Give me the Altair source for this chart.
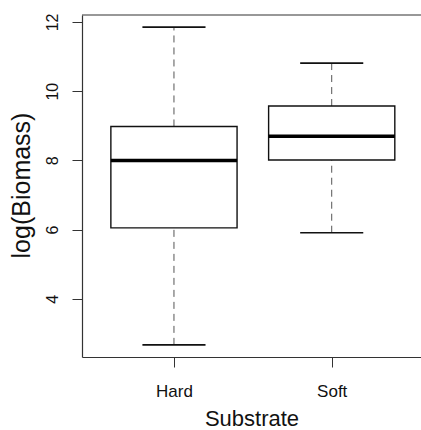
import json
import altair as alt
import pandas as pd

# ---- data ----
categories = ["Hard", "Soft"]
whisker_low = [2.67, 5.91]
q1 = [6.05, 8.01]
median = [8.00, 8.70]
q3 = [8.98, 9.57]
whisker_high = [11.85, 10.81]

y_ticks = [4, 6, 8, 10, 12]

df = pd.DataFrame({
    "cat": categories,
    "pos": list(range(1, len(categories) + 1)),
    "lo": whisker_low,
    "q1": q1,
    "med": median,
    "q3": q3,
    "hi": whisker_high,
})

W, H = 339, 342
FONT = "Liberation Sans"
xdom = [0.417, 2.566]
ydom = [2.32, 12.2]

xscale = alt.Scale(domain=xdom, nice=False, zero=False)
yscale = alt.Scale(domain=ydom, nice=False, zero=False)

label_expr = f"{json.dumps(categories)}[datum.value - 1]"

base = alt.Chart(df).transform_calculate(
    xl="datum.pos - 0.4", xr="datum.pos + 0.4",
    cl="datum.pos - 0.2", cr="datum.pos + 0.2",
)

xaxis = alt.Axis(
    values=[1, 2], labelExpr=label_expr, title="Substrate", grid=False,
    tickSize=10, tickColor="#333", domainColor="#333", domainWidth=1.2,
    labelFont=FONT, labelFontSize=17, labelColor="#111",
    labelBaseline="alphabetic", labelPadding=29.5, labelFlush=False,
    titleFont=FONT, titleFontSize=22, titleFontWeight="normal", titleColor="#111",
    titleBaseline="alphabetic", titleY=68, titleX=W / 2,
)
yaxis = alt.Axis(
    values=y_ticks, title="log(Biomass)", grid=False,
    tickSize=10, tickColor="#333", domainColor="#333", domainWidth=1.2,
    labelFont=FONT, labelFontSize=16, labelColor="#111", labelAngle=270,
    labelAlign="center", labelBaseline="alphabetic", labelPadding=15, labelFlush=False,
    titleFont=FONT, titleFontSize=25, titleFontWeight="normal", titleColor="#111",
    titleAngle=270, titleAlign="center", titleBaseline="middle",
    titleX=-61, titleY=170,
)

whisk_up = base.mark_rule(stroke="#555", strokeWidth=1, strokeDash=[7, 5]).encode(
    x=alt.X("pos:Q", scale=xscale, axis=xaxis),
    y=alt.Y("q3:Q", scale=yscale, axis=yaxis),
    y2="hi:Q",
)
whisk_dn = base.mark_rule(stroke="#555", strokeWidth=1, strokeDash=[7, 5]).encode(
    x=alt.X("pos:Q", scale=xscale),
    y=alt.Y("lo:Q", scale=yscale),
    y2="q1:Q",
)
cap_hi = base.mark_rule(stroke="#111", strokeWidth=1.6).encode(
    x=alt.X("cl:Q", scale=xscale), x2="cr:Q",
    y=alt.Y("hi:Q", scale=yscale),
)
cap_lo = base.mark_rule(stroke="#111", strokeWidth=1.6).encode(
    x=alt.X("cl:Q", scale=xscale), x2="cr:Q",
    y=alt.Y("lo:Q", scale=yscale),
)
box = base.mark_rect(fill="white", stroke="#111", strokeWidth=1.4).encode(
    x=alt.X("xl:Q", scale=xscale), x2="xr:Q",
    y=alt.Y("q1:Q", scale=yscale), y2="q3:Q",
)
med = base.mark_rule(stroke="black", strokeWidth=3.5).encode(
    x=alt.X("xl:Q", scale=xscale), x2="xr:Q",
    y=alt.Y("med:Q", scale=yscale),
)
top_border = alt.Chart(pd.DataFrame({"k": [0]})).mark_rule(
    stroke="#333", strokeWidth=1.2
).encode(x=alt.value(0), x2=alt.value(W), y=alt.value(0))

chart = alt.layer(whisk_up, whisk_dn, cap_hi, cap_lo, box, med, top_border).properties(
    width=W, height=H,
    autosize=alt.AutoSizeParams(type="none"),
    padding={"left": 82, "top": 15, "right": 0, "bottom": 73},
    background="white",
).configure_view(stroke=None)

chart.save("out.html", embed_options={"renderer": "svg", "actions": False})
